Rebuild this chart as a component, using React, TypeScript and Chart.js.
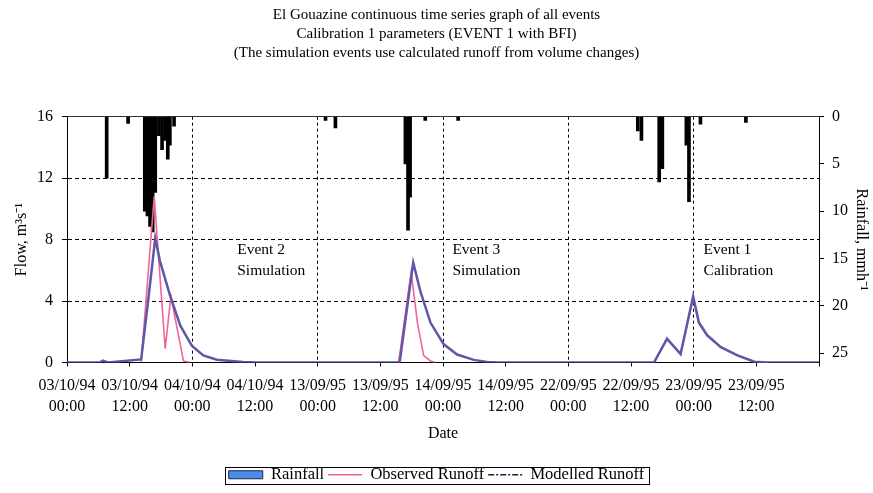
import { useEffect, useRef } from 'react';
import { Chart, registerables } from 'chart.js';

Chart.register(...registerables);

const FONT = "'Liberation Serif', 'Times New Roman', serif";

const titleLines = [
  'El Gouazine continuous time series graph of all events',
  'Calibration 1 parameters (EVENT 1 with BFI)',
  '(The simulation events use calculated runoff from volume changes)',
];

// x axis: hours along the concatenated record, one tick every 12 h
const xTickLabels = [
  ['03/10/94', '00:00'], ['03/10/94', '12:00'], ['04/10/94', '00:00'], ['04/10/94', '12:00'],
  ['13/09/95', '00:00'], ['13/09/95', '12:00'], ['14/09/95', '00:00'], ['14/09/95', '12:00'],
  ['22/09/95', '00:00'], ['22/09/95', '12:00'], ['23/09/95', '00:00'], ['23/09/95', '12:00'],
];

// Rainfall (mm/h)
const rainHours = [7.6, 11.7, 14.9, 15.4, 15.9, 16.4, 16.9, 17.6, 18.2, 18.8, 19.3, 19.7, 20.5,
  49.5, 51.4, 64.8, 65.3, 65.7, 68.6, 74.9,
  109.3, 110.0, 113.4, 114.0, 118.6, 119.1, 121.3, 130.0];
const rainMm = [6.5, 0.7, 10.0, 10.5, 11.6, 12.2, 8.0, 2.0, 3.5, 2.5, 4.5, 3.0, 1.0,
  0.4, 1.2, 5.0, 12.0, 8.5, 0.4, 0.4,
  1.5, 2.5, 6.9, 5.5, 3.0, 9.0, 0.8, 0.6];

// Modelled runoff (m3/s)
const modelledHours = [0, 6.2, 6.9, 7.8, 14.2, 15.6, 16.9, 17.8, 19.7, 21.7, 23.9, 26.1, 28.7, 33.7, 36,
  63.7, 66.3, 67.7, 69.6, 72.1, 74.7, 77.9, 80.4, 82.5,
  112.4, 114.9, 117.5, 119.9, 121.0, 122.6, 125.2, 128.4, 131.6, 134.2, 144];
const modelledFlow = [0, 0, 0.12, 0, 0.2, 4.2, 8.1, 6.6, 4.4, 2.4, 1.1, 0.46, 0.18, 0.03, 0,
  0, 6.5, 4.6, 2.6, 1.2, 0.52, 0.17, 0.04, 0,
  0, 1.55, 0.55, 4.3, 2.6, 1.77, 1.0, 0.46, 0.05, 0, 0];

// Observed runoff (m3/s), null separates events
const observedHours = [14.2, 16.7, 18.8, 19.9, 22.3, 23.5, 40,
  63.5, 65.9, 67.1, 68.3, 69.6, 70.5, 90,
  112.4, 114.9, 117.5, 119.9, 121.0, 122.6, 125.2, 128.4, 131.6, 134.2];
const observedFlow = [0, 10.8, 0.9, 4.3, 0.1, 0, null,
  0, 5.9, 2.6, 0.45, 0.1, 0, null,
  0, 1.5, 0.6, 4.25, 2.55, 1.75, 1.0, 0.45, 0.05, 0];

const eventNoteLines = [['Event 2', 'Simulation'], ['Event 3', 'Simulation'], ['Event 1', 'Calibration']];
const eventNoteHours = [32.6, 73.8, 121.9];
const eventNoteFlow = 7.35;

const notesPlugin = {
  id: 'eventNotes',
  afterDatasetsDraw(chart: any) {
    const { ctx, scales } = chart;
    ctx.save();
    ctx.font = `15.5px ${FONT}`;
    ctx.fillStyle = '#000';
    ctx.textBaseline = 'middle';
    ctx.textAlign = 'left';
    eventNoteLines.forEach((lines, i) => {
      const px = scales.x.getPixelForValue(eventNoteHours[i]);
      const py = scales.y.getPixelForValue(eventNoteFlow);
      lines.forEach((t, j) => ctx.fillText(t, px, py + j * 21));
    });
    ctx.restore();
  },
};

const legendBoxPlugin = {
  id: 'legendBox',
  afterDraw(chart: any) {
    const lg = chart.legend;
    if (!lg || !lg.legendHitBoxes || !lg.legendHitBoxes.length) return;
    const b = lg.legendHitBoxes;
    const l = Math.min(...b.map((h: any) => h.left));
    const r = Math.max(...b.map((h: any) => h.left + h.width));
    const t = Math.min(...b.map((h: any) => h.top));
    const bt = Math.max(...b.map((h: any) => h.top + h.height));
    const ctx = chart.ctx;
    ctx.save();
    ctx.strokeStyle = '#000';
    ctx.lineWidth = 1;
    ctx.strokeRect(Math.round(l - 4) + 0.5, Math.round(t) + 0.5, Math.round(r - l + 8), Math.round(bt - t));
    ctx.restore();
  },
};

export default function App() {
  const ref = useRef<HTMLCanvasElement>(null);
  useEffect(() => {
    if (!ref.current) return;
    const axisFont = { family: FONT, size: 16 };
    const chart = new Chart(ref.current, {
      type: 'bar',
      data: {
        datasets: [
          {
            type: 'bar',
            label: 'Rainfall',
            data: rainHours.map((h, i) => ({ x: h, y: rainMm[i] })),
            yAxisID: 'y2',
            xAxisID: 'x',
            backgroundColor: '#000',
            barThickness: 3,
            grouped: false,
            order: 2,
          } as any,
          {
            type: 'line',
            label: 'Observed Runoff',
            data: observedHours.map((h, i) => ({ x: h, y: observedFlow[i] })),
            yAxisID: 'y',
            xAxisID: 'x',
            borderColor: '#f0649a',
            borderWidth: 1.6,
            pointRadius: 0,
            spanGaps: false,
            tension: 0,
            order: 1,
          } as any,
          {
            type: 'line',
            label: 'Modelled Runoff',
            data: modelledHours.map((h, i) => ({ x: h, y: modelledFlow[i] })),
            yAxisID: 'y',
            xAxisID: 'x',
            borderColor: '#5d58a8',
            borderWidth: 2.5,
            pointRadius: 0,
            tension: 0,
            order: 0,
          } as any,
        ],
      },
      options: {
        animation: false,
        responsive: false,
        maintainAspectRatio: false,
        layout: { padding: { left: 0, right: 0, top: 0, bottom: 0 } },
        plugins: {
          title: {
            display: true,
            text: titleLines,
            color: '#000',
            font: { family: FONT, size: 15, weight: 'normal', lineHeight: 1.26 },
            padding: { top: 5.5, bottom: 54.5 },
          },
          legend: {
            position: 'bottom',
            labels: {
              usePointStyle: true,
              pointStyleWidth: 34,
              boxHeight: 8,
              padding: 4,
              color: '#000',
              font: { family: FONT, size: 16.5 },
              generateLabels: () => [
                { text: 'Rainfall', fillStyle: '#4a8ee6', strokeStyle: '#1b2550', lineWidth: 1, pointStyle: 'rect', datasetIndex: 0, hidden: false },
                { text: 'Observed Runoff', fillStyle: '#f0649a', strokeStyle: '#f0649a', lineWidth: 1.5, pointStyle: 'line', datasetIndex: 1, hidden: false },
                { text: 'Modelled Runoff', fillStyle: '#1c1c48', strokeStyle: '#1c1c48', lineWidth: 1.5, pointStyle: 'line', lineDash: [6, 2, 2, 2], datasetIndex: 2, hidden: false },
              ] as any,
            },
          },
          tooltip: { enabled: false },
        },
        scales: {
          x: {
            type: 'linear',
            position: 'bottom',
            offset: false,
            min: 0,
            max: 144,
            ticks: {
              stepSize: 12,
              autoSkip: false,
              maxRotation: 0,
              minRotation: 0,
              color: '#000',
              padding: 9,
              font: { ...axisFont, lineHeight: 1.3 },
              callback: (v: any) => xTickLabels[Math.round(Number(v) / 12)] ?? '',
            },
            grid: {
              offset: false,
              color: (c: any) => {
                const v = c.tick ? c.tick.value : 0;
                return v > 0 && v < 144 && v % 24 === 0 ? '#000' : 'rgba(0,0,0,0)';
              },
              tickColor: '#000',
              tickLength: 4,
            },
            border: { display: true, color: '#000', width: 1, dash: [3, 3] },
            title: { display: true, text: 'Date', color: '#000', font: axisFont, padding: { top: 0, bottom: 19 } },
            afterFit: (s: any) => { s.height = 100; },
          },
          xTop: {
            type: 'linear',
            position: 'top',
            offset: false,
            min: 0,
            max: 144,
            display: true,
            ticks: { display: false },
            grid: { display: false, drawTicks: false },
            border: { display: true, color: '#333', width: 1 },
            afterFit: (s: any) => { s.height = 0; },
          },
          y: {
            type: 'linear',
            position: 'left',
            min: 0,
            max: 16,
            ticks: { stepSize: 4, color: '#000', padding: 9, font: axisFont },
            grid: {
              color: (c: any) => {
                const v = c.tick ? c.tick.value : 0;
                return v > 0 && v < 16 ? '#000' : 'rgba(0,0,0,0)';
              },
              tickColor: '#000',
              tickLength: 5,
            },
            border: { display: true, color: '#000', width: 1, dash: [4, 3] },
            title: { display: true, text: 'Flow, m\u00B3s\u207B\u00B9', color: '#000', font: axisFont, padding: { top: 12, bottom: 0 } },
            afterFit: (s: any) => { s.width = 67; },
          },
          y2: {
            type: 'linear',
            position: 'right',
            reverse: true,
            min: 0,
            max: 26,
            ticks: { stepSize: 5, includeBounds: false, color: '#000', padding: 8, font: axisFont },
            grid: { drawOnChartArea: false, tickColor: '#000', tickLength: 5 },
            border: { display: true, color: '#000', width: 1 },
            title: { display: true, text: 'Rainfall, mmh\u207B\u00B9', color: '#000', font: axisFont, padding: { top: 2, bottom: 0 } },
            afterFit: (s: any) => { s.width = 54; },
          },
        },
      } as any,
      plugins: [notesPlugin, legendBoxPlugin],
    });
    return () => chart.destroy();
  }, []);

  return (
    <div style={{ position: 'fixed', left: 0, top: 0, width: 873, height: 493, background: '#fff' }}>
      <canvas ref={ref} width={873} height={493} style={{ display: 'block', width: 873, height: 493 }} />
    </div>
  );
}
